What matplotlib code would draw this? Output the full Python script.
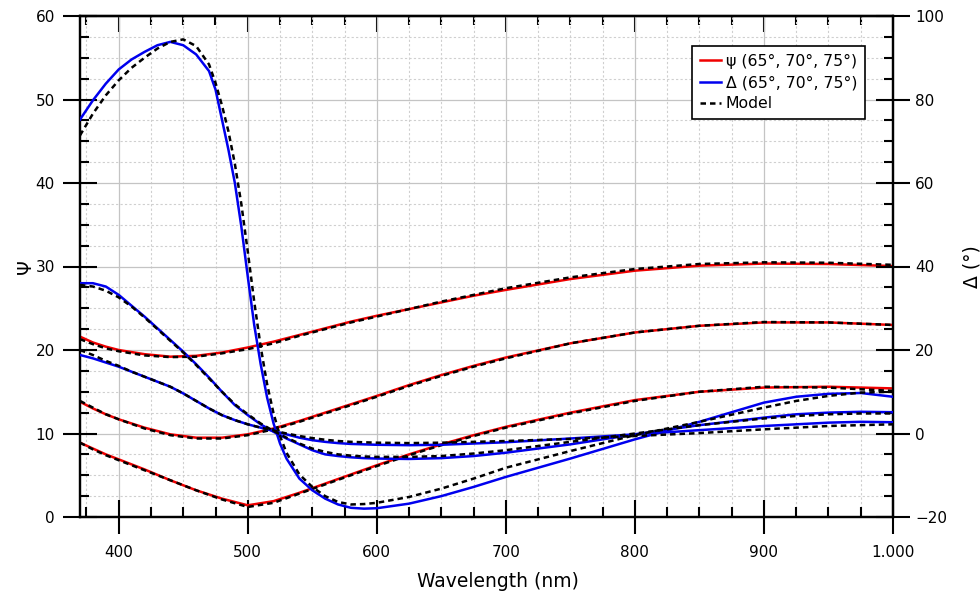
import matplotlib
matplotlib.use('Agg')
import matplotlib.pyplot as plt
from matplotlib.ticker import MultipleLocator, FixedLocator, FixedFormatter
from matplotlib.lines import Line2D

# ---------------- data ----------------
wl_psi = [370, 380, 390, 400, 420, 440, 460, 480, 500, 520, 540, 560, 580, 600,
          625, 650, 675, 700, 750, 800, 850, 900, 950, 1000]

psi_65 = [21.6, 20.9, 20.4, 20.0, 19.5, 19.2, 19.3, 19.7, 20.3, 21.0, 21.8, 22.6, 23.4, 24.1,
          24.9, 25.7, 26.5, 27.2, 28.5, 29.5, 30.1, 30.35, 30.3, 30.05]
psi_70 = [13.8, 13.0, 12.3, 11.7, 10.7, 9.9, 9.5, 9.5, 9.9, 10.6, 11.5, 12.5, 13.5, 14.5,
          15.8, 17.0, 18.1, 19.1, 20.8, 22.1, 22.9, 23.3, 23.3, 23.0]
psi_75 = [8.9, 8.2, 7.5, 6.9, 5.7, 4.4, 3.2, 2.2, 1.4, 1.9, 2.9, 4.0, 5.1, 6.2,
          7.5, 8.7, 9.8, 10.8, 12.5, 14.0, 15.0, 15.5, 15.6, 15.4]

psi_model_65 = [21.3, 20.7, 20.2, 19.85, 19.35, 19.15, 19.2, 19.6, 20.1, 20.8, 21.7, 22.5, 23.3, 24.0,
                24.9, 25.8, 26.6, 27.4, 28.7, 29.7, 30.3, 30.5, 30.45, 30.2]
psi_model_70 = [13.9, 13.1, 12.3, 11.7, 10.6, 9.8, 9.4, 9.4, 9.8, 10.5, 11.4, 12.4, 13.4, 14.4,
                15.7, 16.9, 18.0, 19.0, 20.8, 22.1, 22.9, 23.35, 23.3, 23.0]
psi_model_75 = [8.9, 8.1, 7.4, 6.8, 5.6, 4.4, 3.2, 2.1, 1.2, 1.7, 2.8, 3.9, 5.0, 6.1,
                7.4, 8.6, 9.7, 10.7, 12.4, 13.9, 15.0, 15.6, 15.5, 15.1]

# steep Delta curve (finer sampling around its drop)
wl_delta_a = [370, 380, 390, 400, 410, 420, 430, 440, 450, 460, 470, 475, 480, 485, 490, 495,
              500, 505, 510, 515, 520, 525, 530, 540, 550, 560, 570, 580, 590, 600, 625, 650,
              675, 700, 750, 800, 850, 900, 925, 950, 975, 1000]
delta_a = [75.2, 79.8, 83.8, 87.2, 89.6, 91.4, 93.0, 93.8, 93.0, 90.8, 86.8, 82.4, 75.2, 68.0, 60.0, 49.6,
           37.6, 26.0, 16.6, 8.6, 2.4, -2.4, -6.0, -10.8, -13.6, -15.6, -17.0, -17.8, -18.0, -17.9, -16.8, -15.0,
           -12.8, -10.4, -6.0, -1.4, 2.8, 7.4, 8.8, 9.5, 9.7, 8.8]
delta_model_a = [71.4, 76.6, 81.0, 84.6, 87.6, 90.0, 92.2, 93.8, 94.4, 92.8, 88.4, 84.0, 78.6, 72.4, 64.6, 55.0,
                 43.6, 31.6, 20.8, 11.8, 4.8, -0.6, -4.6, -9.8, -12.8, -15.0, -16.4, -17.0, -16.9, -16.6, -15.2, -13.2,
                 -10.8, -8.2, -4.2, -0.4, 2.8, 6.2, 7.8, 9.0, 9.8, 10.0]

wl_delta = [370, 380, 390, 400, 410, 420, 430, 440, 450, 460, 470, 480, 490, 500, 510, 520,
            530, 540, 550, 560, 570, 580, 590, 600, 625, 650, 675, 700, 750, 800, 850, 900,
            925, 950, 975, 1000]
delta_b = [36.0, 36.0, 35.2, 33.2, 30.6, 28.0, 25.2, 22.4, 19.6, 16.6, 13.4, 10.0, 6.8, 4.4, 2.2, 0.4,
           -1.2, -2.6, -4.0, -5.0, -5.4, -5.7, -5.9, -6.0, -6.1, -5.9, -5.4, -4.6, -2.6, -0.2, 2.0, 3.8,
           4.6, 5.0, 5.2, 5.1]
delta_c = [18.8, 18.0, 17.0, 16.0, 14.8, 13.6, 12.4, 11.2, 9.6, 7.8, 6.0, 4.4, 3.2, 2.2, 1.4, 0.6,
           -0.2, -1.0, -1.6, -2.0, -2.3, -2.5, -2.6, -2.7, -2.8, -2.7, -2.4, -2.1, -1.2, -0.2, 0.8, 1.8,
           2.2, 2.6, 2.8, 2.7]
delta_model_b = [35.6, 35.2, 34.2, 32.6, 30.4, 27.8, 25.0, 22.2, 19.4, 16.4, 13.2, 10.0, 7.0, 4.6, 2.4, 0.6,
                 -1.0, -2.4, -3.6, -4.4, -5.0, -5.3, -5.5, -5.6, -5.6, -5.4, -4.8, -4.0, -2.0, 0.0, 2.0, 3.6,
                 4.2, 4.6, 4.8, 4.8]
delta_model_c = [20.0, 18.8, 17.4, 16.2, 14.8, 13.6, 12.4, 11.2, 9.6, 7.8, 6.0, 4.4, 3.2, 2.2, 1.4, 0.7,
                 0.0, -0.6, -1.1, -1.5, -1.8, -2.0, -2.1, -2.2, -2.3, -2.2, -2.0, -1.8, -1.3, -0.6, 0.1, 1.0,
                 1.4, 1.8, 2.0, 2.2]

x_ticks = [400, 500, 600, 700, 800, 900, 1000]
x_tick_labels = ['400', '500', '600', '700', '800', '900', '1.000']
legend_labels = ['\u03c8 (65\u00b0, 70\u00b0, 75\u00b0)', '\u0394 (65\u00b0, 70\u00b0, 75\u00b0)', 'Model']

# ---------------- style ----------------
plt.rcParams['font.family'] = ['DejaVu Sans']
RED = '#f00000'
BLUE = '#0000ee'
LW = 1.8
DASH = (0, (2.2, 1.6))
TICK_FS = 11

fig = plt.figure(figsize=(9.8, 5.96), dpi=100)
ax = fig.add_axes([80 / 980, 79 / 596, 813 / 980, 501 / 596])
ax2 = ax.twinx()

for y in (psi_65, psi_70, psi_75):
    ax.plot(wl_psi, y, color=RED, lw=LW, zorder=3)
for y in (psi_model_65, psi_model_70, psi_model_75):
    ax.plot(wl_psi, y, color='black', lw=LW, ls=DASH, zorder=4)

ax2.plot(wl_delta_a, delta_a, color=BLUE, lw=LW, zorder=3)
for y in (delta_b, delta_c):
    ax2.plot(wl_delta, y, color=BLUE, lw=LW, zorder=3)
ax2.plot(wl_delta_a, delta_model_a, color='black', lw=LW, ls=DASH, zorder=4)
for y in (delta_model_b, delta_model_c):
    ax2.plot(wl_delta, y, color='black', lw=LW, ls=DASH, zorder=4)

ax.set_xlim(370, 1000)
ax.set_ylim(0, 60)
ax2.set_ylim(-20, 100)

ax.xaxis.set_major_locator(FixedLocator(x_ticks))
ax.xaxis.set_major_formatter(FixedFormatter(x_tick_labels))
ax.xaxis.set_minor_locator(MultipleLocator(25))
ax.yaxis.set_major_locator(MultipleLocator(10))
ax.yaxis.set_minor_locator(MultipleLocator(2.5))
ax2.yaxis.set_major_locator(MultipleLocator(20))
ax2.yaxis.set_minor_locator(MultipleLocator(5))

ax.grid(which='major', color='#c4c4c4', lw=0.9, ls='-', zorder=0)
ax.grid(which='minor', color='#cfcfcf', lw=0.8, ls=(0, (2, 2)), zorder=0)
ax.set_axisbelow(True)

for a in (ax, ax2):
    for s in a.spines.values():
        s.set_linewidth(1.6)
        s.set_color('black')

ax.tick_params(axis='x', which='major', direction='inout', length=24, width=1.5,
               labelsize=TICK_FS, pad=8.5, top=False)
ax.tick_params(axis='x', which='minor', direction='in', length=7, width=1.5, top=False)
ax.tick_params(axis='y', which='major', direction='inout', length=24, width=1.5,
               labelsize=TICK_FS, pad=6, right=False)
ax.tick_params(axis='y', which='minor', direction='in', length=6.5, width=1.5, right=False)
ax2.tick_params(axis='y', which='major', direction='inout', length=24, width=1.5,
                labelsize=TICK_FS, pad=4)
ax2.tick_params(axis='y', which='minor', direction='in', length=6.5, width=1.5)

# inward ticks along the top edge
ax_top = ax.secondary_xaxis('top')
ax_top.xaxis.set_major_locator(FixedLocator(x_ticks))
ax_top.xaxis.set_minor_locator(MultipleLocator(25))
ax_top.tick_params(which='major', direction='in', length=11.5, width=1.5, labeltop=False)
ax_top.tick_params(which='minor', direction='in', length=6.5, width=1.5)
ax_top.spines['top'].set_linewidth(1.6)

ax.set_xlabel('Wavelength (nm)', fontsize=13.5)
ax.xaxis.set_label_coords(0.5135, -0.11)
ax.set_ylabel('\u03a8', fontsize=13.5)
ax.yaxis.set_label_coords(-0.056, 0.5)
ax2.set_ylabel('\u0394 (\u00b0)', fontsize=13.5)
ax2.yaxis.set_label_coords(1.085, 0.5)

handles = [Line2D([], [], color=RED, lw=LW),
           Line2D([], [], color=BLUE, lw=LW),
           Line2D([], [], color='black', lw=LW, ls=DASH)]
leg = ax2.legend(handles, legend_labels, loc='upper right',
                 bbox_to_anchor=(0.9656, 0.940), fontsize=11.3, fancybox=False,
                 framealpha=1, edgecolor='black', handlelength=1.35, handletextpad=0.3,
                 labelspacing=0.4, borderpad=0.5, borderaxespad=0)
leg.get_frame().set_linewidth(1.2)

fig.savefig('out.png', dpi=100)
